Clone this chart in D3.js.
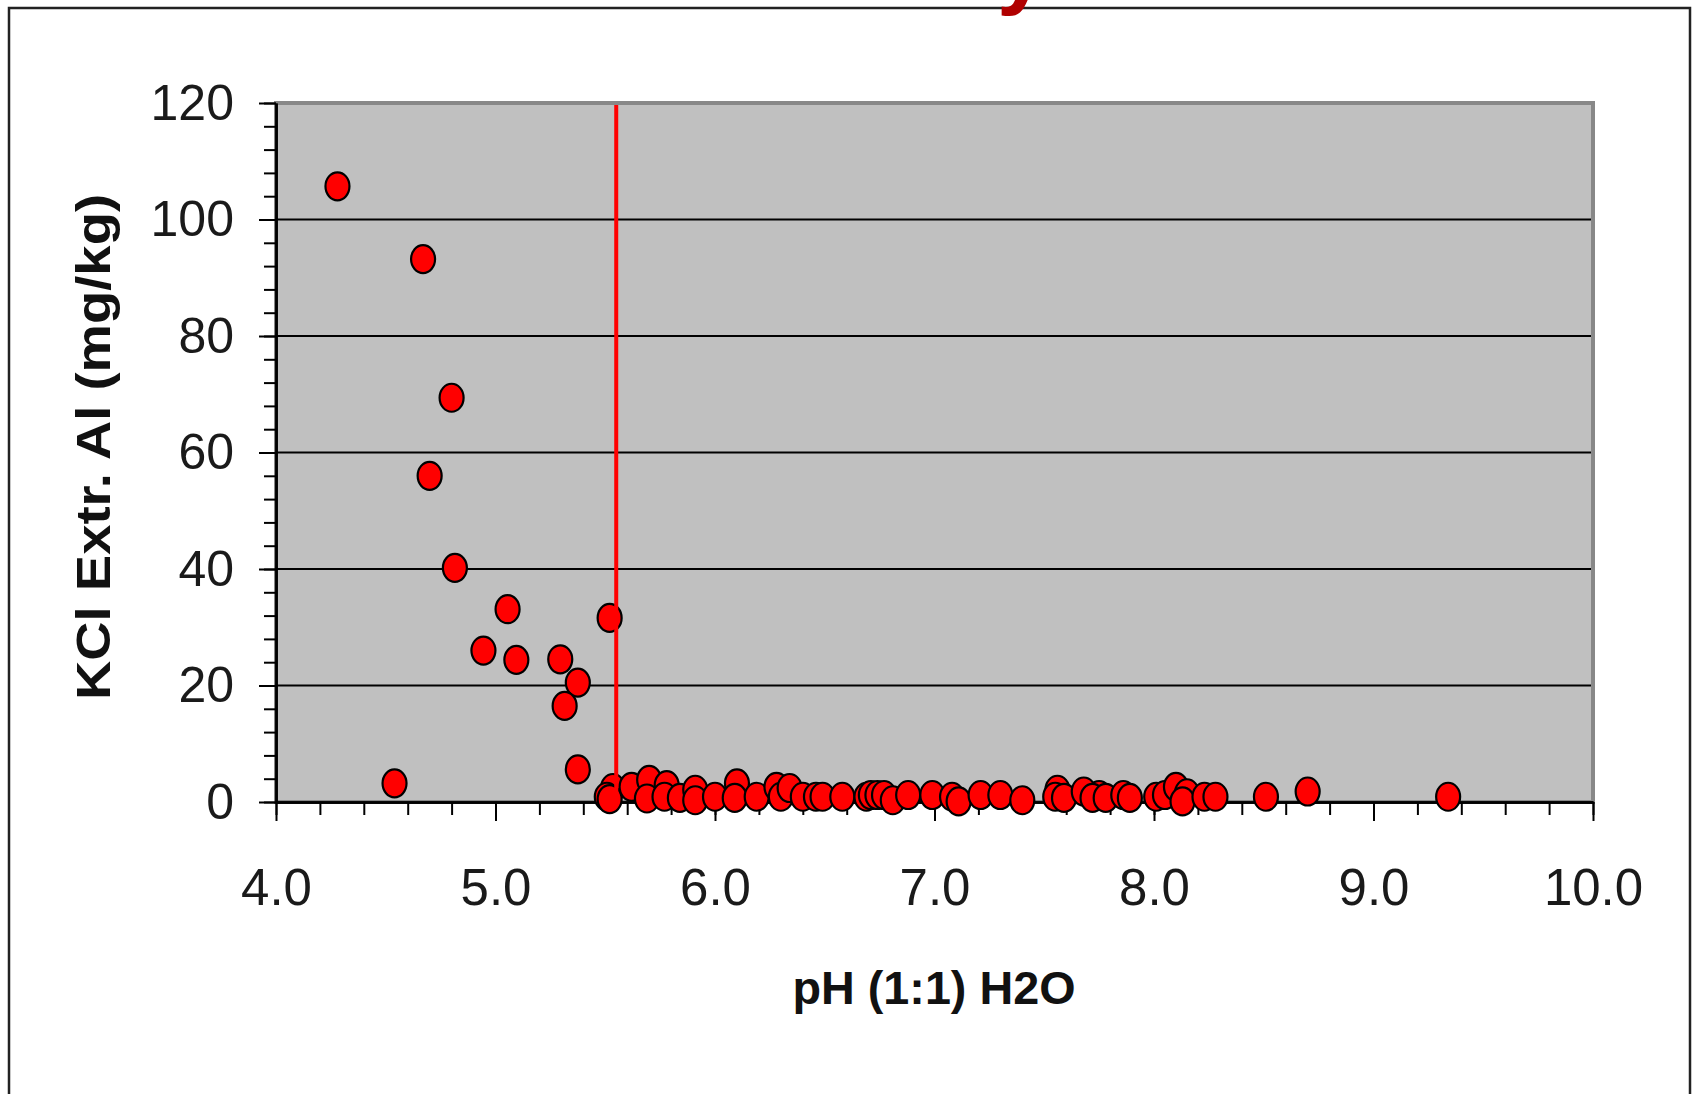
<!DOCTYPE html>
<html>
<head>
<meta charset="utf-8">
<script src="https://cdn.jsdelivr.net/npm/d3@7"></script>
<style>
body{margin:0;background:#fff;}
text{font-family:"Liberation Sans",Arial,sans-serif;}
</style>
</head>
<body>
<div id="chart"></div>
<script>
// data
var phValues = [4.28, 4.67, 4.80, 4.70, 4.815, 5.055, 5.52, 4.945, 5.095, 5.295, 5.375, 5.315, 5.375, 4.54,
	5.535, 5.507, 5.52, 5.62, 5.70, 5.69, 5.78, 5.77, 5.84, 5.91, 5.91, 6.00, 6.10, 6.09, 6.19, 6.28,
	6.30, 6.34, 6.40, 6.46, 6.49, 6.58, 6.69, 6.71, 6.74, 6.77, 6.81, 6.88, 6.99, 7.08, 7.11, 7.21,
	7.30, 7.40, 7.56, 7.55, 7.59, 7.68, 7.75, 7.72, 7.78, 7.86, 7.89, 8.01, 8.05, 8.10, 8.15, 8.13,
	8.23, 8.28, 8.51, 8.70, 9.34];
var alValues = [105.7, 93.2, 69.4, 56.0, 40.2, 33.1, 31.6, 26.0, 24.4, 24.5, 20.5, 16.5, 5.6, 3.2,
	2.4, 0.9, 0.5, 2.6, 3.8, 0.6, 2.9, 0.9, 0.7, 2.1, 0.3, 0.9, 3.2, 0.7, 0.9, 2.6,
	0.9, 2.4, 0.9, 0.9, 0.9, 0.9, 0.9, 1.2, 1.2, 1.2, 0.3, 1.2, 1.2, 0.9, 0.1, 1.2,
	1.2, 0.3, 2.1, 0.9, 0.7, 1.8, 1.2, 0.7, 0.7, 1.2, 0.7, 0.9, 1.2, 2.6, 1.5, 0.1,
	0.9, 0.9, 0.9, 1.8, 0.9];
var xTickValues = [4, 5, 6, 7, 8, 9, 10];
var yTickValues = [0, 20, 40, 60, 80, 100, 120];
var limitPH = 5.55;
var xTitle = "pH (1:1) H2O";
var yTitle = "KCl Extr. Al (mg/kg)";
var titleTail = "y";

var W = 1694, H = 1094;
var plot = {left:276, right:1593, top:103, bottom:802};

var xScale = d3.scaleLinear().domain([4, 10]).range([plot.left, plot.right]);
var yScale = d3.scaleLinear().domain([0, 120]).range([plot.bottom, plot.top]);

var svg = d3.select("#chart").append("svg")
	.attr("width", W)
	.attr("height", H);

// outer frame
svg.append("rect")
	.attr("x", 9).attr("y", 8)
	.attr("width", 1681).attr("height", 1100)
	.attr("fill", "none")
	.attr("stroke", "#222")
	.attr("stroke-width", 2.5);

// title, only its tail is on the picture
svg.append("text")
	.text(titleTail)
	.attr("x", 1022)
	.attr("y", -3)
	.attr("text-anchor", "middle")
	.attr("fill", "#b00000")
	.style("font-size", "90px")
	.style("font-weight", "bold");

// plot area
svg.append("rect")
	.attr("x", plot.left).attr("y", plot.top)
	.attr("width", plot.right - plot.left)
	.attr("height", plot.bottom - plot.top)
	.attr("fill", "#c0c0c0")
	.attr("stroke", "#888")
	.attr("stroke-width", 4);

// horizontal grid
svg.append("g").selectAll("line")
	.data(yTickValues.filter(function(d){ return d > 0 && d < 120; }))
	.enter().append("line")
	.attr("x1", plot.left).attr("x2", plot.right - 2)
	.attr("y1", function(d){ return yScale(d); })
	.attr("y2", function(d){ return yScale(d); })
	.attr("stroke", "#000")
	.attr("stroke-width", 2);

// y axis, minor then major
var yMinor = d3.range(0, 31).map(function(i){ return i * 4; });
svg.append("g")
	.attr("transform", "translate(" + plot.left + ",0)")
	.call(d3.axisLeft(yScale).tickValues(yMinor).tickSize(12).tickSizeOuter(0).tickFormat(""));
var yAxis = svg.append("g")
	.attr("transform", "translate(" + plot.left + ",0)")
	.call(d3.axisLeft(yScale).tickValues(yTickValues).tickSize(17).tickPadding(25).tickSizeOuter(0).tickFormat(d3.format("d")));
yAxis.selectAll("text")
	.attr("fill", "#1a1a1a")
	.style("font-size", "50px")
	.style("font-family", "'Liberation Sans', Arial, sans-serif");

// x axis
var xMinor = d3.range(0, 31).map(function(i){ return 4 + i * 0.2; });
svg.append("g")
	.attr("transform", "translate(0," + plot.bottom + ")")
	.call(d3.axisBottom(xScale).tickValues(xMinor).tickSize(13).tickSizeOuter(0).tickFormat(""));
var xAxis = svg.append("g")
	.attr("transform", "translate(0," + plot.bottom + ")")
	.call(d3.axisBottom(xScale).tickValues(xTickValues).tickSize(19).tickPadding(48).tickSizeOuter(0).tickFormat(d3.format(".1f")));
xAxis.selectAll("text")
	.attr("fill", "#1a1a1a")
	.style("font-size", "51px")
	.style("font-family", "'Liberation Sans', Arial, sans-serif");

svg.selectAll(".domain").attr("stroke", "#000").attr("stroke-width", 2.5);
svg.selectAll(".tick line").attr("stroke", "#000").attr("stroke-width", 2);

// points
svg.append("g").selectAll("ellipse")
	.data(phValues)
	.enter().append("ellipse")
	.attr("cx", function(d){ return xScale(d); })
	.attr("cy", function(d, i){ return yScale(alValues[i]); })
	.attr("rx", 12)
	.attr("ry", 14)
	.attr("fill", "#ff0000")
	.attr("stroke", "#000")
	.attr("stroke-width", 2.2);

// threshold line
svg.append("line")
	.attr("x1", xScale(limitPH)).attr("x2", xScale(limitPH))
	.attr("y1", plot.top + 2).attr("y2", plot.bottom)
	.attr("stroke", "#ff0000")
	.attr("stroke-width", 4);

// axis titles
svg.append("text")
	.text(xTitle)
	.attr("x", 934)
	.attr("y", 1004)
	.attr("text-anchor", "middle")
	.attr("textLength", 283)
	.attr("lengthAdjust", "spacingAndGlyphs")
	.attr("fill", "#111")
	.style("font-size", "46px")
	.style("font-weight", "bold");

svg.append("text")
	.text(yTitle)
	.attr("transform", "translate(110,447) rotate(-90)")
	.attr("text-anchor", "middle")
	.attr("textLength", 506)
	.attr("lengthAdjust", "spacingAndGlyphs")
	.attr("fill", "#111")
	.style("font-size", "49px")
	.style("font-weight", "bold");
</script>
</body>
</html>
